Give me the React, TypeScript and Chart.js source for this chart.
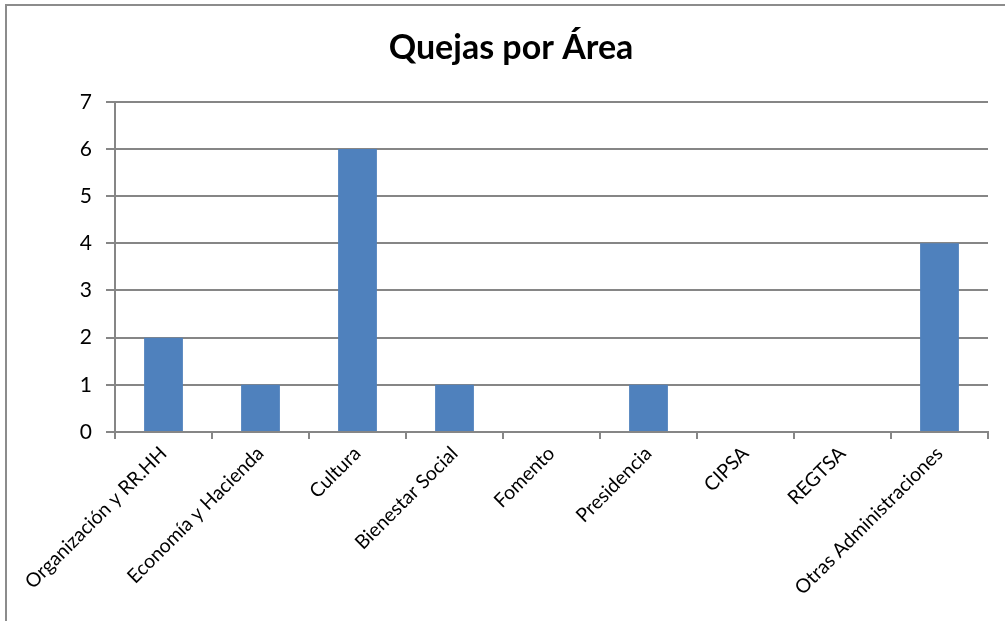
import React, { useEffect, useRef } from "react";
import { Chart, registerables } from "chart.js";

Chart.register(...registerables);

const categories = [
  "Organización y RR.HH",
  "Economía y Hacienda",
  "Cultura",
  "Bienestar Social",
  "Fomento",
  "Presidencia",
  "CIPSA",
  "REGTSA",
  "Otras Administraciones",
];
const quejas = [2, 1, 6, 1, 0, 1, 0, 0, 4];
const titleText = "Quejas por Área";

export default function App() {
  const ref = useRef<HTMLCanvasElement | null>(null);
  useEffect(() => {
    if (!ref.current) return;
    const chart = new Chart(ref.current, {
      type: "bar",
      data: {
        labels: categories,
        datasets: [
          {
            data: quejas,
            backgroundColor: "#4f81bd",
            borderWidth: 0,
            barPercentage: 0.4,
            categoryPercentage: 1,
          },
        ],
      },
      options: {
        animation: false,
        responsive: false,
        layout: { padding: { left: 0, right: 0, top: 0, bottom: 0 } },
        plugins: {
          legend: { display: false },
          tooltip: { enabled: false },
          title: {
            display: true,
            text: titleText,
            color: "#000",
            font: { family: "Lato, 'Open Sans', sans-serif", size: 34, weight: "bold" },
            padding: { top: 28, bottom: 33 },
          },
        },
        scales: {
          x: {
            offset: true,
            grid: {
              offset: true,
              drawOnChartArea: false,
              drawTicks: true,
              tickLength: 7,
              color: "#868686",
              lineWidth: 2,
            },
            border: { color: "#868686", width: 2 },
            ticks: {
              color: "#000",
              maxRotation: 45,
              minRotation: 45,
              autoSkip: false,
              font: { family: "Lato, 'Open Sans', sans-serif", size: 19.5 },
            },
            afterFit: (s: any) => {
              s.height = 189;
            },
          },
          y: {
            min: 0,
            max: 7,
            grid: { color: "#868686", lineWidth: 2, tickLength: 9 },
            border: { color: "#868686", width: 2 },
            ticks: {
              stepSize: 1,
              color: "#000",
              padding: 14,
              font: { family: "Lato, 'Open Sans', sans-serif", size: 21 },
            },
            afterFit: (s: any) => {
              s.width = 115;
            },
          },
          yRight: {
            position: "right",
            display: true,
            min: 0,
            max: 7,
            grid: { display: false, drawOnChartArea: false },
            border: { display: false },
            ticks: { display: false },
            afterFit: (s: any) => {
              s.width = 34;
            },
          },
        },
      },
    });
    return () => chart.destroy();
  }, []);
  return (
    <div style={{ position: "absolute", left: 0, top: 0, width: 1005, height: 621, overflow: "hidden", background: "#fff" }}>
      <div
        style={{
          position: "absolute",
          left: 5,
          top: 4,
          width: 1020,
          height: 640,
          borderTop: "2px solid #8c8c8c",
          borderLeft: "2px solid #8c8c8c",
        }}
      />
      <canvas ref={ref} width={1022} height={621} style={{ position: "absolute", left: 0, top: 0 }} />
    </div>
  );
}
